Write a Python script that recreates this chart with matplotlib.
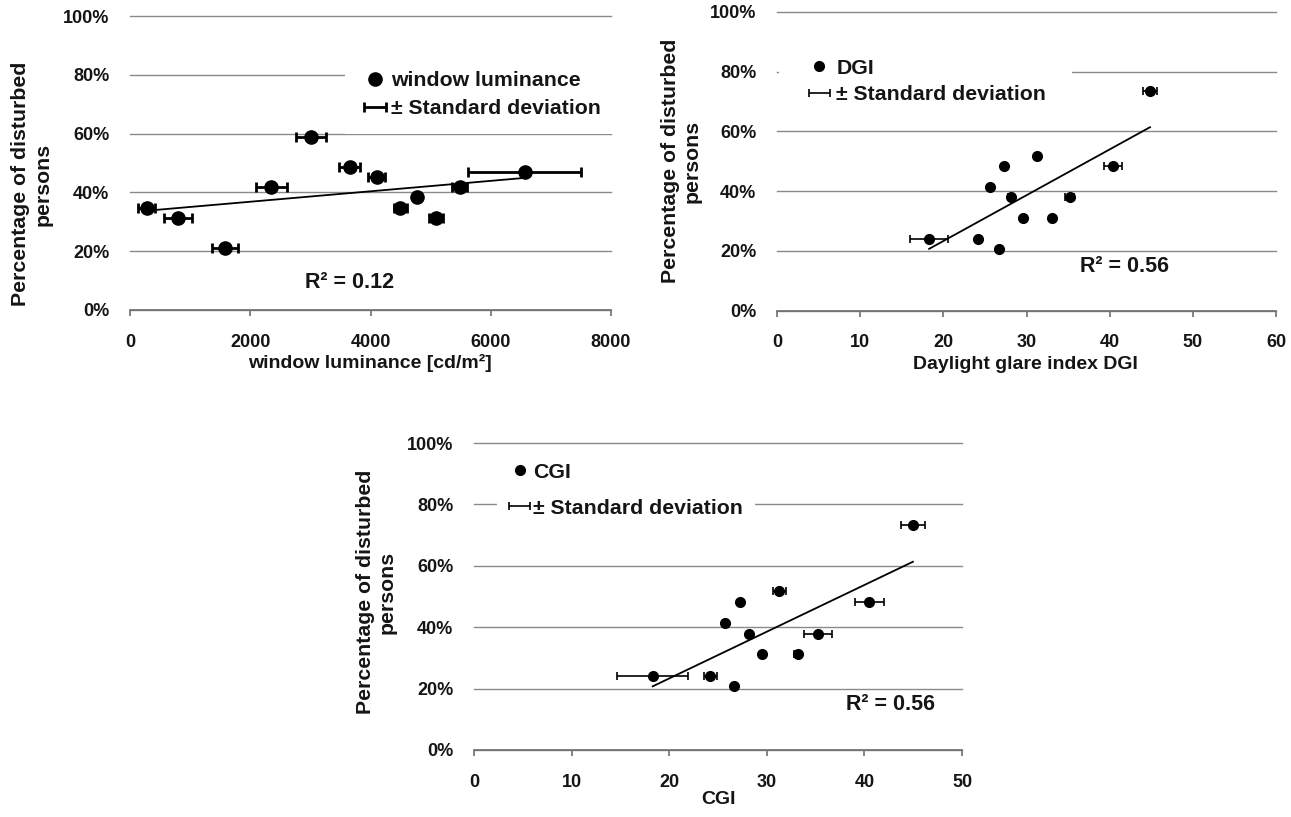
import numpy as np
import matplotlib.pyplot as plt
from matplotlib.ticker import FuncFormatter

plt.rcParams["font.family"] = ["Liberation Sans", "DejaVu Sans"]
plt.rcParams["font.weight"] = "bold"

W, H = 1291, 817

# window luminance panel
lum_x = [277, 802, 1588, 2352, 3009, 3657, 4100, 4498, 4780, 5084, 5482, 6562]
lum_y = [34.7, 31.2, 21.0, 41.7, 58.8, 48.6, 45.2, 34.7, 38.4, 31.2, 41.7, 47.0]
lum_sd = [138, 235, 216, 260, 249, 174, 141, 110, 40, 115, 130, 945]

# DGI panel
dgi_x = [18.29, 24.19, 26.64, 25.63, 27.28, 28.12, 29.53, 31.21, 33.02, 35.18, 40.40, 44.85]
dgi_y = [24.1, 24.1, 20.7, 41.4, 48.3, 38.0, 31.0, 51.8, 31.0, 38.0, 48.3, 73.4]
dgi_sd = [2.33, 0.2, 0.2, 0.2, 0.2, 0.3, 0.2, 0.2, 0.2, 0.5, 1.06, 0.9]

# CGI panel
cgi_x = [18.31, 24.23, 26.66, 25.70, 27.30, 28.22, 29.55, 31.30, 33.15, 35.24, 40.51, 44.97]
cgi_y = [24.2, 24.2, 20.7, 41.4, 48.2, 37.9, 31.2, 51.8, 31.2, 37.9, 48.2, 73.3]
cgi_sd = [3.65, 0.68, 0.2, 0.2, 0.2, 0.2, 0.2, 0.7, 0.4, 1.4, 1.47, 1.2]

y_ticks = [0, 20, 40, 60, 80, 100]
ylabel = "Percentage of disturbed\npersons"

GRID = "#8a8a8a"
INK = "#151515"


def px_axes(fig, left, top, right, bottom):
    return fig.add_axes([left / W, 1 - bottom / H, (right - left) / W, (bottom - top) / H])


def fxy(px, py):
    return (px / W, 1 - py / H)


def panel(fig, box, x, y, sd, xlim, xticks, name, xlabel, ms, elw, cap,
          leg_xy, leg_pad, leg_space, hlen, r2_xy, r2_text, ylab_xy, xlab_xy):
    ax = px_axes(fig, *box)
    ax.set_xlim(*xlim)
    ax.set_ylim(0, 100)
    ax.set_xticks(xticks)
    ax.set_yticks(y_ticks)
    ax.yaxis.set_major_formatter(FuncFormatter(lambda v, p: f"{v:.0f}%"))

    for s in ["top", "left", "right"]:
        ax.spines[s].set_visible(False)
    ax.spines["bottom"].set_color("#6e6e6e")
    ax.spines["bottom"].set_linewidth(1.2)
    ax.tick_params(axis="x", direction="out", length=4, width=1.2, color="#6e6e6e",
                   labelsize=13, pad=13, labelcolor=INK)
    ax.tick_params(axis="y", length=0, labelsize=13, pad=15, labelcolor=INK)
    ax.set_axisbelow(True)
    ax.grid(axis="y", color=GRID, linewidth=1.0)
    for gl in ax.get_ygridlines():
        gl.set_clip_on(False)

    eb = ax.errorbar(x, y, xerr=sd, fmt="none", ecolor="black", elinewidth=elw,
                     capsize=cap, capthick=elw, label="± Standard deviation", zorder=2)
    pts, = ax.plot(x, y, "o", color="black", markersize=ms, label=name, zorder=3)

    # linear trend line over the data range
    k, b = np.polyfit(x, y, 1)
    xs = np.array([min(x), max(x)])
    ax.plot(xs, k * xs + b, color="black", linewidth=1.3, zorder=2.5)

    leg = ax.legend([pts, eb], [name, "± Standard deviation"], loc="upper left",
                    bbox_to_anchor=fxy(*leg_xy), bbox_transform=fig.transFigure,
                    frameon=True, facecolor="white", edgecolor="none", framealpha=1,
                    fancybox=False, borderaxespad=0, borderpad=leg_pad,
                    labelspacing=leg_space, handlelength=hlen, handletextpad=0.1,
                    prop={"weight": "bold", "size": 15.3})
    for t in leg.get_texts():
        t.set_color(INK)

    fig.text(*fxy(*r2_xy), r2_text, ha="center", va="center", fontsize=15.5,
             fontweight="bold", color=INK)
    fig.text(*fxy(*ylab_xy), ylabel, rotation=90, ha="center", va="center",
             multialignment="center", fontsize=15.3, fontweight="bold", color=INK,
             linespacing=1.2)
    fig.text(*fxy(*xlab_xy), xlabel, ha="center", va="center", fontsize=14,
             fontweight="bold", color=INK)
    return ax


fig = plt.figure(figsize=(W / 100, H / 100), dpi=100)

panel(fig, (130, 16, 611, 310), lum_x, lum_y, lum_sd, (0, 8000),
      [0, 2000, 4000, 6000, 8000], "window luminance", "window luminance [cd/m²]",
      ms=9.5, elw=2.0, cap=3.5, leg_xy=(345, 55), leg_pad=0.75, leg_space=0.45, hlen=1.32,
      r2_xy=(350, 282), r2_text="R² = 0.12", ylab_xy=(32, 184), xlab_xy=(370, 363))

panel(fig, (777, 12, 1276, 310.5), dgi_x, dgi_y, dgi_sd, (0, 60),
      [0, 10, 20, 30, 40, 50, 60], "DGI", "Daylight glare index DGI",
      ms=7, elw=1.2, cap=3, leg_xy=(779, 33), leg_pad=1.2, leg_space=0.36, hlen=1.4,
      r2_xy=(1125, 267), r2_text="R² = 0.56", ylab_xy=(681, 161), xlab_xy=(1025, 364))

panel(fig, (474, 443, 962, 750), cgi_x, cgi_y, cgi_sd, (0, 50),
      [0, 10, 20, 30, 40, 50], "CGI", "CGI",
      ms=7, elw=1.2, cap=3, leg_xy=(497, 451), leg_pad=0.55, leg_space=0.8, hlen=1.05,
      r2_xy=(890, 704), r2_text="R² = 0.56", ylab_xy=(376, 592), xlab_xy=(718, 800))

fig.savefig("out.png", dpi=100)
